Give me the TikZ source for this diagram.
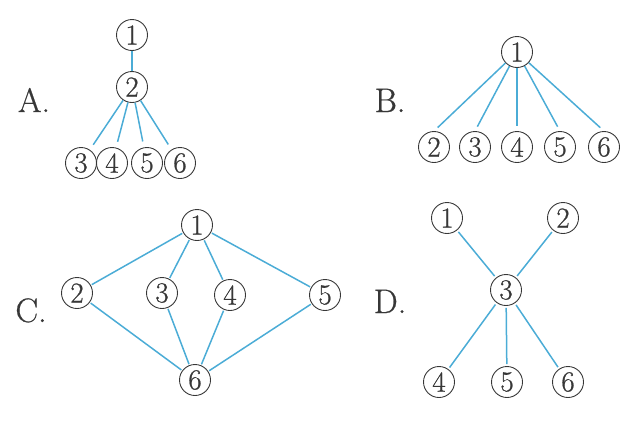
\documentclass[tikz,border=0pt]{standalone}
\usepackage{fontspec}
\setmainfont{Latin Modern Roman}[FakeBold=0.7]
\usepackage{tikz}
\usetikzlibrary{positioning}

\definecolor{linkblue}{RGB}{75,172,214}
\definecolor{inkgrey}{RGB}{55,55,55}

\begin{document}
\begin{tikzpicture}[x=1pt, y=-1pt,
  nd/.style={draw=inkgrey, circle, line width=0.9pt, inner sep=0pt, minimum size=31pt,
    text=inkgrey, font=\fontsize{29}{29}\selectfont},
  lbl/.style={text=inkgrey, anchor=base, inner sep=0pt, font=\fontsize{34}{34}\selectfont},
  link/.style={draw=linkblue, line width=1.5pt}]

  \useasboundingbox (0,0) rectangle (644,424);

  % Part A
  \node[lbl] (lblA) at (34,112) {A.};
  \node[nd] (a1) at (132,35) {1};
  \node[nd] (a2) at (132,87) {2};
  \node[nd] (a3) at (81,163) {3};
  \node[nd] (a4) at (112,163) {4};
  \node[nd] (a5) at (147,163) {5};
  \node[nd] (a6) at (180,163) {6};
  \draw[link] (a1) -- (a2);
  \foreach \k in {3,4,5,6}
    \draw[link, shorten >=6pt] (a2) -- (a\k);

  % Part B
  \node[lbl] (lblB) at (390,112) {B.};
  \node[nd] (b1) at (517,52) {1};
  \node[nd] (b2) at (434,147) {2};
  \node[nd] (b3) at (475,147) {3};
  \node[nd] (b4) at (517,147) {4};
  \node[nd] (b5) at (560,147) {5};
  \node[nd] (b6) at (604,147) {6};
  \foreach \k in {2,...,6}
    \draw[link, shorten >=5pt] (b1) -- (b\k.north);

  % Part C
  \node[lbl] (lblC) at (31,322) {C.};
  \node[nd] (c1) at (197,225) {1};
  \node[nd] (c2) at (77,293) {2};
  \node[nd] (c3) at (162,293) {3};
  \node[nd] (c4) at (230,295) {4};
  \node[nd] (c5) at (325,295) {5};
  \node[nd] (c6) at (195,380) {6};
  \foreach \k in {2,...,5} {
    \draw[link, shorten <=1pt, shorten >=1pt] (c1) -- (c\k);
    \draw[link, shorten <=1pt, shorten >=1pt] (c\k) -- (c6);
  }

  % Part D
  \node[lbl] (lblD) at (390,313) {D.};
  \node[nd] (d1) at (447,218) {1};
  \node[nd] (d2) at (563,218) {2};
  \node[nd] (d3) at (506,290) {3};
  \node[nd] (d4) at (439,382) {4};
  \node[nd] (d5) at (507,382) {5};
  \node[nd] (d6) at (568,382) {6};
  \foreach \k in {1,2,4,5,6}
    \draw[link, shorten <=2pt, shorten >=2pt] (d3) -- (d\k);

\end{tikzpicture}
\end{document}
